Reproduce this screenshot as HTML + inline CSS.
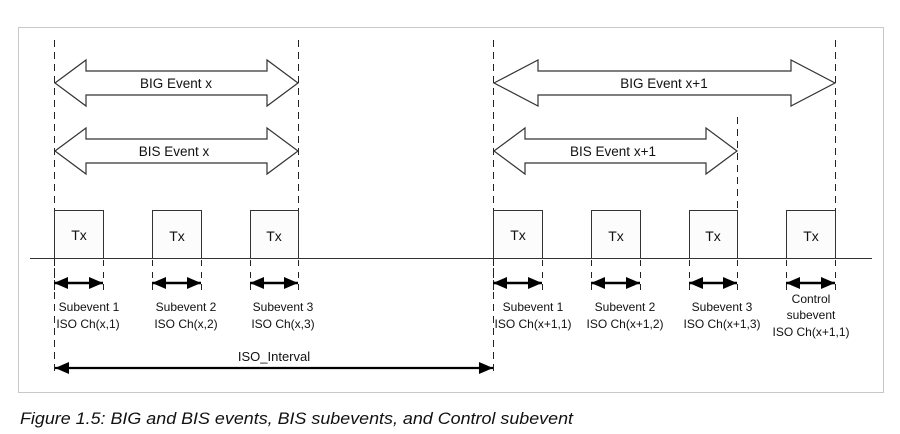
<!DOCTYPE html>
<html><head><meta charset="utf-8"><style>
html,body{margin:0;padding:0;background:#fff;width:900px;height:434px;overflow:hidden}
svg{display:block}
text{font-family:"Liberation Sans",sans-serif;fill:#111}
</style></head><body>
<svg width="900" height="434" viewBox="0 0 900 434" xmlns="http://www.w3.org/2000/svg">
<defs>
<marker id="ah" viewBox="0 0 14 12" refX="14" refY="6" markerWidth="14" markerHeight="12" markerUnits="userSpaceOnUse" orient="auto-start-reverse">
<path d="M0,0 L14,6 L0,12 z" fill="#000"/></marker>
<marker id="ah2" viewBox="0 0 14 12" refX="14" refY="6" markerWidth="14" markerHeight="12" markerUnits="userSpaceOnUse" orient="auto-start-reverse">
<path d="M0,0 L14,6 L0,12 z" fill="#000"/></marker>
</defs>
<rect x="18.5" y="27.5" width="865" height="365" fill="#fff" stroke="#c8c8c8" stroke-width="1"/>
<g stroke="#222" stroke-width="1" stroke-dasharray="7,5" fill="none">
<line x1="54.5" y1="40" x2="54.5" y2="376"/>
<line x1="298.5" y1="40" x2="298.5" y2="210"/>
<line x1="493.5" y1="40" x2="493.5" y2="376"/>
<line x1="835.5" y1="40" x2="835.5" y2="210"/>
<line x1="737.5" y1="117" x2="737.5" y2="210"/>
</g>
<g stroke="#222" stroke-width="1" stroke-dasharray="6,6" fill="none">
<line x1="54.5" y1="260" x2="54.5" y2="296"/><line x1="103.5" y1="260" x2="103.5" y2="296"/>
<line x1="152.5" y1="260" x2="152.5" y2="296"/><line x1="201.5" y1="260" x2="201.5" y2="296"/>
<line x1="250.5" y1="260" x2="250.5" y2="296"/><line x1="298.5" y1="260" x2="298.5" y2="296"/>
<line x1="493.5" y1="260" x2="493.5" y2="296"/><line x1="542.5" y1="260" x2="542.5" y2="296"/>
<line x1="591.5" y1="260" x2="591.5" y2="296"/><line x1="640.5" y1="260" x2="640.5" y2="296"/>
<line x1="689.5" y1="260" x2="689.5" y2="296"/><line x1="737.5" y1="260" x2="737.5" y2="296"/>
<line x1="786.5" y1="260" x2="786.5" y2="296"/><line x1="835.5" y1="260" x2="835.5" y2="296"/>
</g>
<g fill="#fff" stroke="#333" stroke-width="1.2">
<path d="M55,83 L86,60 L86,71 L267,71 L267,60 L298,83 L267,106 L267,95 L86,95 L86,106 Z"/>
<path d="M55,151 L86,128 L86,139 L267,139 L267,128 L298,151 L267,174 L267,163 L86,163 L86,174 Z"/>
<path d="M494,83 L538,60 L538,71 L791,71 L791,60 L835,83 L791,106 L791,95 L538,95 L538,106 Z"/>
<path d="M494,151 L525,128 L525,139 L706,139 L706,128 L737,151 L706,174 L706,163 L525,163 L525,174 Z"/>
</g>
<text x="176" y="88" font-size="13.5" text-anchor="middle">BIG Event x</text>
<text x="174" y="156" font-size="13.5" text-anchor="middle">BIS Event x</text>
<text x="664" y="88" font-size="13.5" text-anchor="middle">BIG Event x+1</text>
<text x="613" y="156" font-size="13.5" text-anchor="middle">BIS Event x+1</text>
<g fill="#fcfcfc" stroke="#333" stroke-width="1">
<rect x="54.5" y="210.5" width="49" height="48"/>
<rect x="152.5" y="210.5" width="49" height="48"/>
<rect x="250.5" y="210.5" width="48" height="48"/>
<rect x="493.5" y="210.5" width="49" height="48"/>
<rect x="591.5" y="210.5" width="49" height="48"/>
<rect x="689.5" y="210.5" width="48" height="48"/>
<rect x="786.5" y="210.5" width="49" height="48"/>
</g>
<g font-size="14" text-anchor="middle">
<text x="79" y="240">Tx</text><text x="177" y="241">Tx</text><text x="274" y="241">Tx</text>
<text x="518" y="240">Tx</text><text x="616" y="241">Tx</text><text x="713" y="241">Tx</text><text x="811" y="241">Tx</text>
</g>
<line x1="30" y1="258.5" x2="872" y2="258.5" stroke="#333" stroke-width="1"/>
<g stroke="#000" stroke-width="2.5" marker-start="url(#ah2)" marker-end="url(#ah2)">
<line x1="54" y1="283" x2="103" y2="283"/>
<line x1="152" y1="283" x2="201" y2="283"/>
<line x1="250" y1="283" x2="298" y2="283"/>
<line x1="493" y1="283" x2="542" y2="283"/>
<line x1="591" y1="283" x2="640" y2="283"/>
<line x1="689" y1="283" x2="737" y2="283"/>
<line x1="786" y1="283" x2="835" y2="283"/>
</g>
<line x1="55" y1="368" x2="493" y2="368" stroke="#000" stroke-width="2.2" marker-start="url(#ah)" marker-end="url(#ah)"/>
<text x="274" y="361" font-size="13" text-anchor="middle">ISO_Interval</text>
<g font-size="12" text-anchor="middle">
<text x="89" y="311">Subevent 1</text><text x="88" y="328">ISO Ch(x,1)</text>
<text x="186" y="311">Subevent 2</text><text x="186" y="328">ISO Ch(x,2)</text>
<text x="283" y="311">Subevent 3</text><text x="283" y="328">ISO Ch(x,3)</text>
<text x="533" y="311">Subevent 1</text><text x="533" y="328">ISO Ch(x+1,1)</text>
<text x="625" y="311">Subevent 2</text><text x="625" y="328">ISO Ch(x+1,2)</text>
<text x="722" y="311">Subevent 3</text><text x="722" y="328">ISO Ch(x+1,3)</text>
<text x="811" y="303">Control</text><text x="811" y="319">subevent</text><text x="811" y="336">ISO Ch(x+1,1)</text>
</g>
<text x="20" y="424" font-size="17" font-style="italic" textLength="553" lengthAdjust="spacingAndGlyphs">Figure 1.5: BIG and BIS events, BIS subevents, and Control subevent</text>
</svg>
</body></html>
